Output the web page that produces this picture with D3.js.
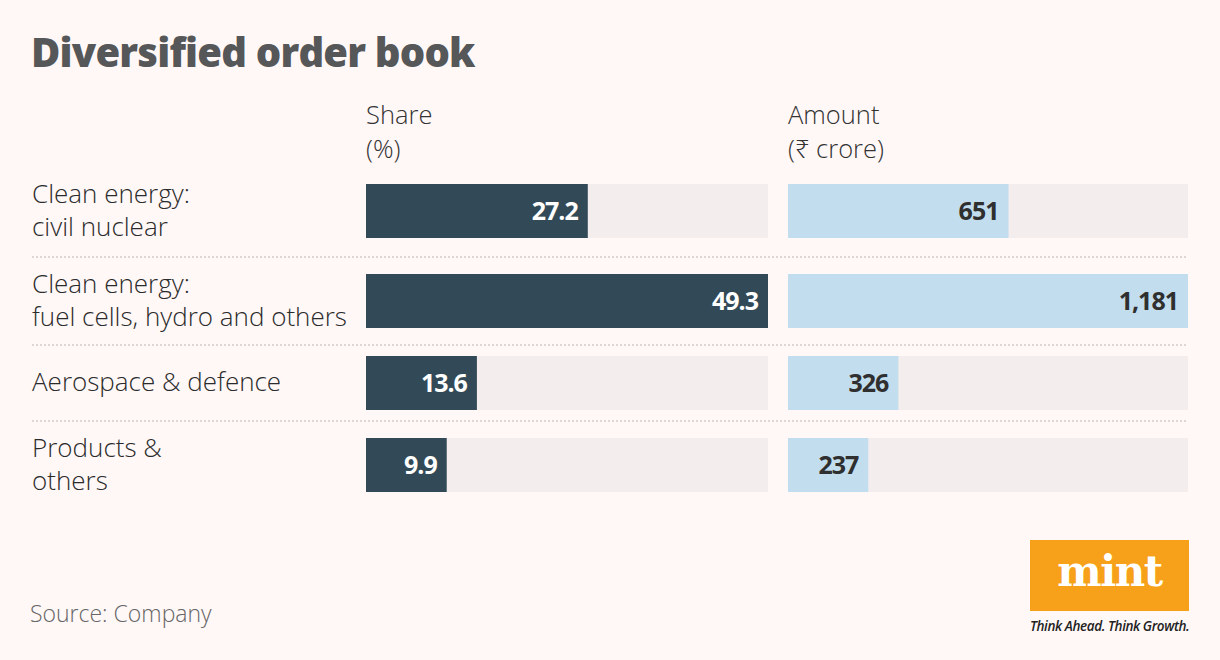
<!DOCTYPE html>
<html>
<head>
<meta charset="utf-8">
<script src="https://cdn.jsdelivr.net/npm/d3@7"></script>
<style>
  body { margin: 0; background: #fff8f7; }
  svg { display: block; font-family: "Open Sans", "Noto Sans", sans-serif; }
</style>
</head>
<body>
<svg id="chart"></svg>
<script>
const width = 1220;
const height = 660;

const categories = [
  ["Clean energy:", "civil nuclear"],
  ["Clean energy:", "fuel cells, hydro and others"],
  ["Aerospace & defence"],
  ["Products &", "others"]
];
const share = [27.2, 49.3, 13.6, 9.9];
const amount = [651, 1181, 326, 237];
const shareLabels = ["27.2", "49.3", "13.6", "9.9"];
const amountLabels = ["651", "1,181", "326", "237"];

// row tops in px (rows are not evenly spaced in the original)
const rowTop = [184, 274, 356, 438];
const barH = 54;
const sepY = [257, 345, 421];

const svg = d3.select("#chart")
    .attr("width", width)
    .attr("height", height)
    .attr("viewBox", [0, 0, width, height]);

svg.append("rect").attr("width", width).attr("height", height).attr("fill", "#fff8f7");

svg.append("text")
    .attr("x", 31).attr("y", 67)
    .attr("font-size", 40)
    .attr("font-weight", 800)
    .attr("fill", "#555759")
    .attr("letter-spacing", -0.8)
    .text("Diversified order book");

const xShare = d3.scaleLinear([0, d3.max(share)], [366, 768]);
const xAmount = d3.scaleLinear([0, d3.max(amount)], [788, 1188]);

// column headers
function header(x, lines) {
  svg.append("text")
      .attr("font-size", 25.5)
      .attr("font-weight", 300)
      .attr("fill", "#333")
    .selectAll("tspan")
    .data(lines)
    .join("tspan")
      .attr("x", x)
      .attr("y", (d, i) => 124 + i * 34)
      .text(d => d);
}
header(366, ["Share", "(%)"]);
header(788, ["Amount", "(₹ crore)"]);

// dotted separators
svg.append("g")
    .attr("stroke", "#dcd7d6")
    .attr("stroke-width", 2)
    .attr("stroke-dasharray", "2,2")
  .selectAll("line")
  .data(sepY)
  .join("line")
    .attr("x1", 32).attr("x2", 1188)
    .attr("y1", d => d).attr("y2", d => d);

const rows = svg.append("g")
  .selectAll("g")
  .data(d3.range(categories.length))
  .join("g")
    .attr("transform", i => `translate(0,${rowTop[i]})`);

// category labels
rows.append("text")
    .attr("font-size", 26)
    .attr("font-weight", 300)
    .attr("fill", "#2b2b2b")
  .selectAll("tspan")
  .data(i => categories[i].map((t, k) => ({t, k, n: categories[i].length})))
  .join("tspan")
    .attr("x", 32)
    .attr("y", d => barH / 2 + 8 + (d.k - (d.n - 1) / 2) * 33)
    .text(d => d.t);

function barSet(x, values, labels, fill, textFill) {
  rows.append("rect")
      .attr("x", x.range()[0])
      .attr("width", x.range()[1] - x.range()[0])
      .attr("height", barH)
      .attr("fill", "#f3eeed");
  rows.append("rect")
      .attr("x", x(0))
      .attr("width", i => x(values[i]) - x(0))
      .attr("height", barH)
      .attr("fill", fill);
  rows.append("text")
      .attr("x", i => x(values[i]) - 10)
      .attr("y", barH / 2 + 9)
      .attr("text-anchor", "end")
      .attr("font-size", 25)
      .attr("font-weight", 700)
      .attr("letter-spacing", -1)
      .attr("fill", textFill)
      .text(i => labels[i]);
}
barSet(xShare, share, shareLabels, "#324a57", "#ffffff");
barSet(xAmount, amount, amountLabels, "#c2ddee", "#2f2f2f");

svg.append("text")
    .attr("x", 30).attr("y", 622)
    .attr("font-size", 23)
    .attr("font-weight", 300)
    .attr("fill", "#666")
    .text("Source: Company");

// mint logo
const logo = svg.append("g").attr("transform", "translate(1030,540)");
logo.append("rect").attr("width", 159).attr("height", 71).attr("fill", "#f7a11a");
logo.append("text")
    .attr("x", 79.5).attr("y", 46)
    .attr("text-anchor", "middle")
    .attr("font-family", "DejaVu Serif, serif")
    .attr("font-weight", 700)
    .attr("font-size", 42)
    .attr("letter-spacing", -1.5)
    .attr("fill", "#fff")
    .text("mint");
logo.append("text")
    .attr("x", 0).attr("y", 91)
    .attr("font-size", 13.5)
    .attr("font-style", "italic")
    .attr("font-weight", 600)
    .attr("letter-spacing", -0.4)
    .attr("fill", "#222")
    .text("Think Ahead. Think Growth.");
</script>
</body>
</html>
